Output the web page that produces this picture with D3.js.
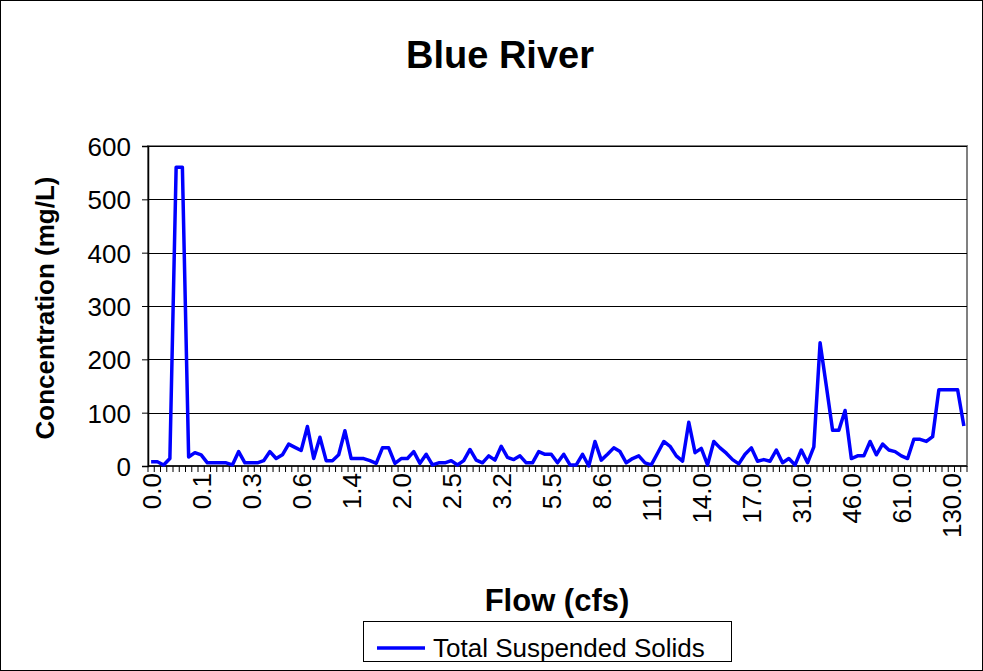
<!DOCTYPE html>
<html>
<head>
<meta charset="utf-8">
<script src="https://cdn.jsdelivr.net/npm/d3@7"></script>
<style>
  body { margin: 0; background: #fff; }
  text { font-family: Arial, "Liberation Sans", sans-serif; }
</style>
</head>
<body>
<div id="maincontainer"></div>
<script>
	//Data: TSS per sample, sorted by flow
	let tssValues = [
		8, 8, 2, 14, 560, 560, 17, 25, 21, 6,
		6, 6, 6, 2, 27, 6, 6, 6, 10, 27,
		14, 21, 41, 35, 29, 74, 14, 54, 10, 10,
		21, 66, 14, 14, 14, 10, 5, 34, 34, 5,
		14, 14, 27, 5, 22, 2, 6, 6, 10, 2,
		10, 31, 11, 6, 19, 11, 37, 16, 12, 19,
		6, 6, 27, 22, 22, 6, 22, 2, 2, 22,
		0, 46, 11, 22, 34, 27, 6, 14, 19, 6,
		2, 24, 46, 37, 19, 9, 82, 25, 33, 2,
		46, 34, 24, 12, 4, 22, 34, 9, 12, 9,
		30, 6, 14, 2, 30, 6, 36, 231, 150, 67,
		67, 104, 14, 19, 19, 46, 21, 41, 30, 27,
		19, 14, 50, 50, 46, 55, 143, 143, 143, 143,
		75
	];

	// flow labels shown on the axis (every 8th sample)
	let flowLabels = ["0.0", "0.1", "0.3", "0.6", "1.4", "2.0", "2.5", "3.2", "5.5",
		"8.6", "11.0", "14.0", "17.0", "31.0", "46.0", "61.0", "130.0"];
	let labelStep = 8;

	let yTicks = [0, 100, 200, 300, 400, 500, 600];

	//Initialize SVG
	let width = 983;
	let height = 671;
	let plot = {left: 148, right: 967, top: 146, bottom: 466};

	let svg = d3.select("#maincontainer")
		.append("svg")
		.attr("width", width)
		.attr("height", height);

	svg.append("rect")
		.attr("x", 0.5).attr("y", 0.5)
		.attr("width", width - 1).attr("height", height - 1)
		.attr("fill", "white")
		.attr("stroke", "black");

	let x = d3.scaleBand()
		.domain(d3.range(tssValues.length))
		.range([plot.left, plot.right]);

	let y = d3.scaleLinear()
		.domain([0, 600])
		.range([plot.bottom, plot.top]);

	// plot area frame
	svg.append("rect")
		.attr("x", plot.left).attr("y", plot.top)
		.attr("width", plot.right - plot.left).attr("height", plot.bottom - plot.top)
		.attr("fill", "white")
		.attr("stroke", "#808080")
		.attr("stroke-width", 2);

	// gridlines
	svg.append("g")
		.selectAll("line")
		.data(yTicks.filter(d => d > 0))
		.enter()
		.append("line")
		.attr("x1", plot.left).attr("x2", plot.right)
		.attr("y1", d => Math.round(y(d)) + 0.5)
		.attr("y2", d => Math.round(y(d)) + 0.5)
		.attr("stroke", "black")
		.attr("stroke-width", 1);

	// y axis
	let yAxis = svg.append("g")
		.attr("transform", `translate(${plot.left},0)`)
		.call(d3.axisLeft(y).tickValues(yTicks).tickSize(6).tickPadding(11));
	yAxis.select(".domain").attr("stroke", "black").attr("stroke-width", 1.5);
	yAxis.selectAll("text")
		.attr("font-size", "26px")
		.attr("fill", "black")
		.attr("dy", "0.36em");

	// x axis: a tick between every category
	let bounds = d3.range(tssValues.length + 1);
	svg.append("g")
		.selectAll("line")
		.data(bounds)
		.enter()
		.append("line")
		.attr("x1", d => plot.left + d * x.step())
		.attr("x2", d => plot.left + d * x.step())
		.attr("y1", plot.bottom)
		.attr("y2", plot.bottom + 6)
		.attr("stroke", "black")
		.attr("stroke-width", 1);

	svg.append("line")
		.attr("x1", plot.left).attr("x2", plot.right)
		.attr("y1", plot.bottom).attr("y2", plot.bottom)
		.attr("stroke", "black")
		.attr("stroke-width", 1.5);

	svg.append("g")
		.selectAll("text")
		.data(flowLabels)
		.enter()
		.append("text")
		.attr("transform", (d, i) => `translate(${x(i * labelStep) + x.bandwidth() / 2},${plot.bottom + 7}) rotate(-90)`)
		.attr("text-anchor", "end")
		.attr("dy", "0.36em")
		.attr("font-size", "26px")
		.text(d => d);

	// the line
	let line = d3.line()
		.x((d, i) => x(i) + x.bandwidth() / 2)
		.y(d => y(d));

	svg.append("path")
		.datum(tssValues)
		.attr("d", line)
		.attr("fill", "none")
		.attr("stroke", "#0000ff")
		.attr("stroke-width", 3.5)
		.attr("stroke-linejoin", "round");

	// titles
	svg.append("text")
		.attr("x", 500).attr("y", 68)
		.attr("text-anchor", "middle")
		.attr("font-size", "38px")
		.attr("font-weight", "bold")
		.text("Blue River");

	svg.append("text")
		.attr("transform", "translate(54,308) rotate(-90)")
		.attr("text-anchor", "middle")
		.attr("font-size", "26px")
		.attr("font-weight", "bold")
		.text("Concentration (mg/L)");

	svg.append("text")
		.attr("x", 557).attr("y", 611)
		.attr("text-anchor", "middle")
		.attr("font-size", "31px")
		.attr("font-weight", "bold")
		.text("Flow (cfs)");

	////////////////// Legend //////////////////
	let legend = svg.append("g");
	legend.append("rect")
		.attr("x", 363.5).attr("y", 621.5)
		.attr("width", 368).attr("height", 40)
		.attr("fill", "white")
		.attr("stroke", "black");
	legend.append("line")
		.attr("x1", 377).attr("x2", 425)
		.attr("y1", 648).attr("y2", 648)
		.attr("stroke", "#0000ff")
		.attr("stroke-width", 3.5);
	legend.append("text")
		.attr("x", 433).attr("y", 657)
		.attr("font-size", "26px")
		.text("Total Suspended Solids");
</script>
</body>
</html>
